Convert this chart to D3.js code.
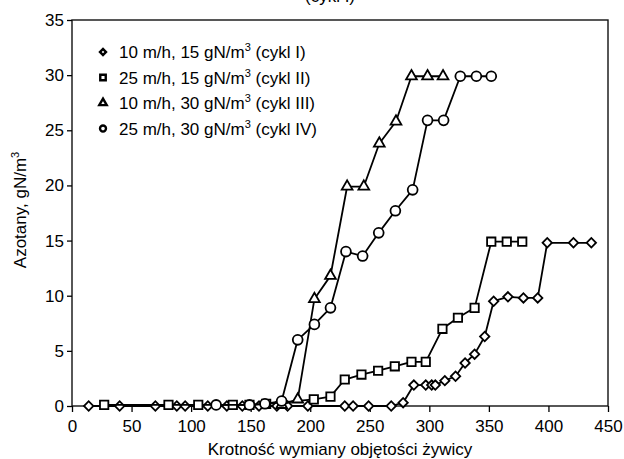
<!DOCTYPE html>
<html>
<head>
<meta charset="utf-8">
<script src="https://cdn.jsdelivr.net/npm/d3@7"></script>
<style>
  body { margin: 0; background: #fff; }
  svg text { font-family: "Liberation Sans", Arial, sans-serif; fill: #000; }
</style>
</head>
<body>
<div id="chart"></div>
<script>
// values
const cycle1X = [14, 40, 70, 88, 95, 114, 130, 143, 157, 172, 181, 198, 229, 236, 249, 268, 278, 287, 297, 302, 305, 313, 322, 330, 338, 346.5, 354, 366, 379, 391, 399, 421, 436];
const cycle1Y = [0, 0, 0, 0, 0, 0, 0, 0, 0, 0, 0, 0, 0, 0, 0, 0, 0.3, 1.9, 1.9, 1.9, 1.9, 2.3, 2.7, 3.9, 4.7, 6.3, 9.5, 9.9, 9.8, 9.8, 14.8, 14.8, 14.8];

const cycle2X = [27, 81, 106, 135, 149, 163, 203, 217, 229, 243, 257, 271, 285, 297, 311, 324, 338, 352, 365, 378];
const cycle2Y = [0.1, 0.1, 0.1, 0.1, 0.1, 0.2, 0.6, 0.85, 2.4, 2.85, 3.2, 3.6, 4.0, 4.0, 7.0, 8.0, 8.9, 14.9, 14.9, 14.9];

const cycle3X = [176, 189.5, 203.5, 217, 231, 245, 258, 272, 285, 298.5, 311.5];
const cycle3Y = [0.1, 0.6, 9.7, 11.8, 19.9, 19.9, 23.8, 25.8, 29.9, 29.9, 29.9];

const cycle4X = [121, 149, 162, 176, 189.5, 203.5, 217, 230, 244, 257.5, 271.5, 286, 298.5, 312, 326, 339.5, 352];
const cycle4Y = [0.1, 0.1, 0.2, 0.45, 6.0, 7.4, 8.9, 14.0, 13.6, 15.7, 17.7, 19.6, 25.9, 25.9, 29.9, 29.9, 29.9];

const legendLabels = [
  ["10 m/h, 15 gN/m", " (cykl I)"],
  ["25 m/h, 15 gN/m", " (cykl II)"],
  ["10 m/h, 30 gN/m", " (cykl III)"],
  ["25 m/h, 30 gN/m", " (cykl IV)"]
];
const xTicks = [0, 50, 100, 150, 200, 250, 300, 350, 400, 450];
const yTicks = [0, 5, 10, 15, 20, 25, 30, 35];

const width = 624, height = 459;
const margin = {top: 20, right: 16, bottom: 53, left: 72};

const svg = d3.select('#chart').append('svg')
  .attr('width', width)
  .attr('height', height);

const x = d3.scaleLinear().domain([0, 450]).range([margin.left, width - margin.right]);
const y = d3.scaleLinear().domain([0, 35]).range([height - margin.bottom, margin.top]);

// heading, cut off by the top edge as in the scan
svg.append('text')
  .attr('x', 330).attr('y', 1.5)
  .attr('text-anchor', 'middle')
  .style('font-size', '17px')
  .text('(cykl I)');

// frame
svg.append('rect')
  .attr('x', x(0)).attr('y', y(35))
  .attr('width', x(450) - x(0)).attr('height', y(0) - y(35))
  .attr('fill', 'none').attr('stroke', '#111').attr('stroke-width', 1.4);

// axes
const xAxis = svg.append('g')
  .attr('transform', `translate(0,${y(0)})`)
  .call(d3.axisBottom(x).tickValues(xTicks).tickSize(6).tickPadding(8));
xAxis.select('.domain').remove();
xAxis.selectAll('line').attr('stroke', '#000').attr('stroke-width', 1.3);
xAxis.selectAll('text').style('font-size', '17px').attr('fill', '#000');

const yAxis = svg.append('g')
  .attr('transform', `translate(${x(0)},0)`)
  .call(d3.axisLeft(y).tickValues(yTicks).tickSize(5).tickPadding(3));
yAxis.select('.domain').remove();
yAxis.selectAll('line').attr('stroke', '#000').attr('stroke-width', 1.3);
yAxis.selectAll('text').style('font-size', '17px').attr('fill', '#000');

// axis titles
svg.append('text')
  .attr('x', (x(0) + x(450)) / 2).attr('y', 455)
  .attr('text-anchor', 'middle')
  .style('font-size', '17px')
  .text('Krotność wymiany objętości żywicy');

const yTitle = svg.append('text')
  .attr('transform', `translate(26,${(y(0) + y(35)) / 2 - 3}) rotate(-90)`)
  .attr('text-anchor', 'middle')
  .style('font-size', '17px');
yTitle.append('tspan').text('Azotany, gN/m');
yTitle.append('tspan').attr('dy', -7).style('font-size', '11px').text('3');

// series
const shapes = [
  d3.symbol().type(d3.symbolSquare).size(44),
  d3.symbol().type(d3.symbolSquare).size(70),
  d3.symbol().type(d3.symbolTriangle).size(50),
  d3.symbol().type(d3.symbolCircle).size(76)
];
const rotations = [45, 0, 0, 0];
const series = [
  cycle1X.map((v, i) => [v, cycle1Y[i]]),
  cycle2X.map((v, i) => [v, cycle2Y[i]]),
  cycle3X.map((v, i) => [v, cycle3Y[i]]),
  cycle4X.map((v, i) => [v, cycle4Y[i]])
];

const line = d3.line().x(d => x(d[0])).y(d => y(d[1]));

series.forEach((pts, k) => {
  svg.append('path')
    .datum(pts)
    .attr('d', line)
    .attr('fill', 'none')
    .attr('stroke', '#000')
    .attr('stroke-width', 1.8)
    .attr('stroke-linejoin', 'round');

  svg.selectAll('.m' + k)
    .data(pts)
    .enter()
    .append('path')
    .attr('class', 'm' + k)
    .attr('d', shapes[k])
    .attr('transform', d => `translate(${x(d[0])},${y(d[1])}) rotate(${rotations[k]})`)
    .attr('fill', '#fff')
    .attr('stroke', '#000')
    .attr('stroke-width', 1.8);
});

// legend
const legendShapes = [
  d3.symbol().type(d3.symbolSquare).size(18),
  d3.symbol().type(d3.symbolSquare).size(30),
  d3.symbol().type(d3.symbolTriangle).size(24),
  d3.symbol().type(d3.symbolCircle).size(28)
];
const legendY = [52, 77.5, 103, 128.5];

legendLabels.forEach((lab, k) => {
  const g = svg.append('g').attr('transform', `translate(103,${legendY[k]})`);
  g.append('path')
    .attr('d', legendShapes[k])
    .attr('transform', `rotate(${rotations[k]})`)
    .attr('fill', '#fff')
    .attr('stroke', '#000')
    .attr('stroke-width', 2.4);
  const t = g.append('text')
    .attr('x', 16).attr('y', 6)
    .style('font-size', '17px');
  t.append('tspan').text(lab[0]);
  t.append('tspan').attr('dy', -7).style('font-size', '11px').text('3');
  t.append('tspan').attr('dy', 7).text(lab[1]);
});
</script>
</body>
</html>
